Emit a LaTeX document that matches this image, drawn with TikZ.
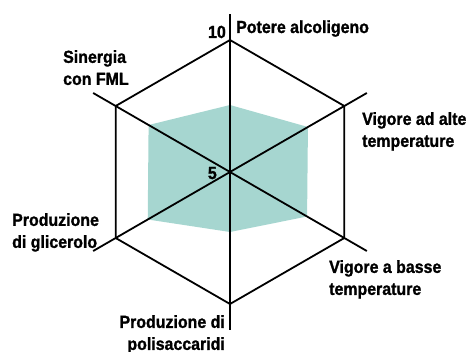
\documentclass[tikz,border=0pt]{standalone}
\usepackage{fontspec}
\setmainfont{Liberation Sans}[FakeStretch=0.91,BoldFont={* Bold},BoldFeatures={FakeBold=1.3}]
\usetikzlibrary{arrows}
\usepackage{xcolor}
\definecolor{tealarea}{RGB}{166,214,208}

\begin{document}
\begin{tikzpicture}[x=1pt,y=1pt,line join=miter,
grid line/.style={draw=black,line width=1.8pt},
label node/.style={font=\fontsize{17.5}{22}\selectfont\bfseries,align=left,inner sep=0pt}]

\useasboundingbox (-230,-179) rectangle (240,172);

% centre, hexagon corners and axis ends
\coordinate (c) at (0,0);
\coordinate (1) at (90:132);
\coordinate (2) at (30:132);
\coordinate (3) at (-30:132);
\coordinate (4) at (-90:132);
\coordinate (5) at (-150:132);
\coordinate (6) at (150:132);
\coordinate (1a) at (90:158);
\coordinate (2a) at (30:158);
\coordinate (3a) at (-30:158);
\coordinate (4a) at (-90:158);
\coordinate (5a) at (-150:158);
\coordinate (6a) at (150:158);

% values
\fill[tealarea] (90:67) -- (30:90) -- (-30:89) -- (-90:60) -- (-150:95) -- (150:94) -- cycle;

\path[grid line]
(c) edge (1a)
(c) edge (2a)
(c) edge (3a)
(c) edge (4a)
(c) edge (5a)
(c) edge (6a);
\draw[grid line] (1) -- (2) -- (3) -- (4) -- (5) -- (6) -- cycle;

\node[label node,anchor=base east] (ten) at (-4,134) {10};
\node[label node,anchor=base east] (five) at (-13,-7) {5};
\node[label node,anchor=base west] (pa) at (6,139) {Potere alcoligeno};
\node[label node,anchor=north west] (va) at (132,60) {Vigore ad alte\\temperature};
\node[label node,anchor=north west] (vb) at (99,-88) {Vigore a basse\\temperature};
\node[label node,anchor=north east,align=right] (pp) at (-5,-143) {Produzione di\\polisaccaridi};
\node[label node,anchor=north west] (pg) at (-218,-41) {Produzione\\di glicerolo};
\node[label node,anchor=north west] (sf) at (-167,122) {Sinergia\\con FML};
\end{tikzpicture}
\end{document}
